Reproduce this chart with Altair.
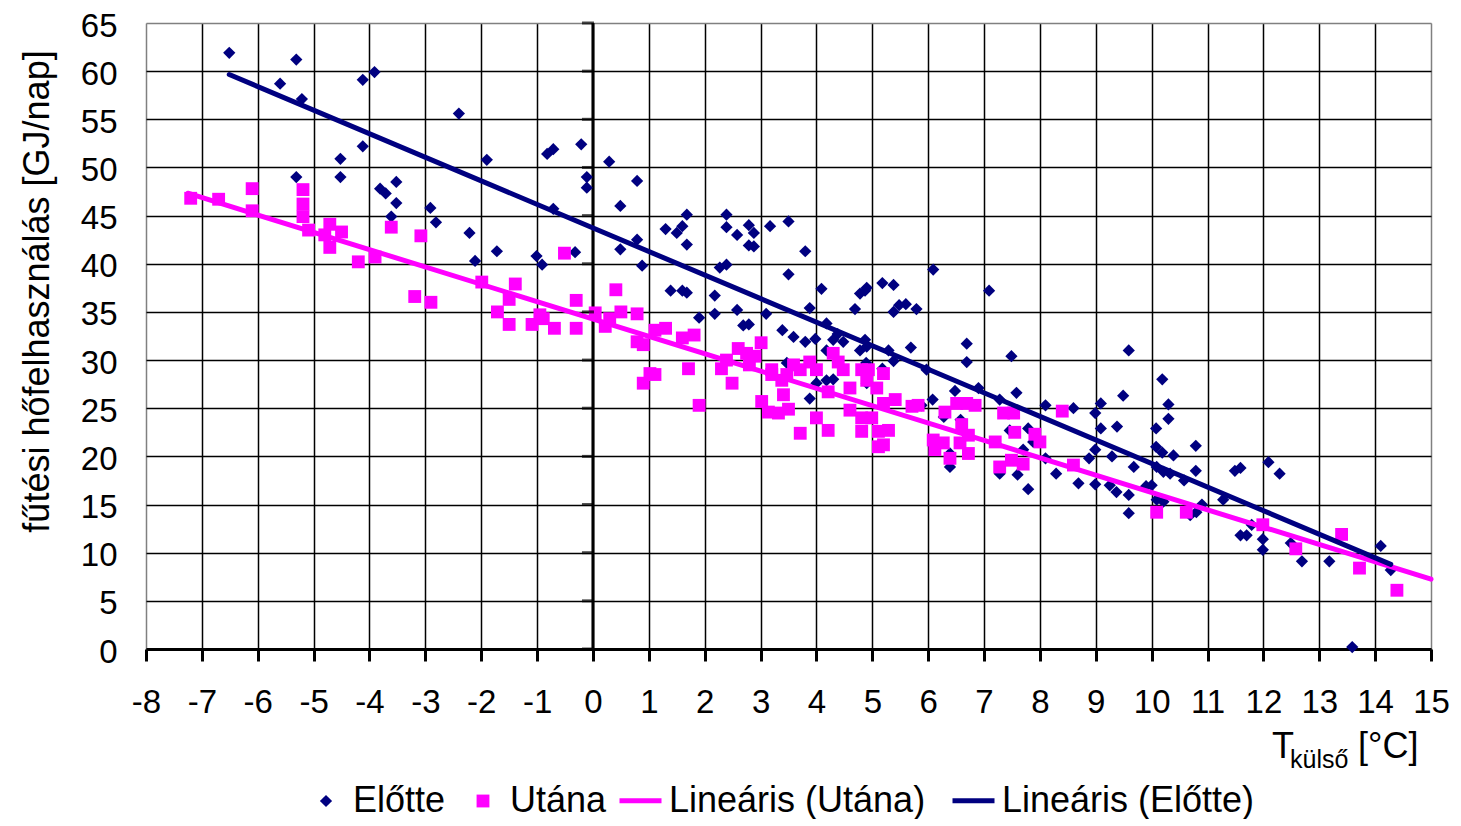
import altair as alt
import pandas as pd

# ---- data ----
elotte_x = [-6.51, -5.31, -5.60, -5.21, -4.12, -3.91, -2.40, -4.12, -4.52, -4.52, -5.31, -1.90,
            -0.82, -0.71, -0.21, -0.11, -0.11, -3.81, -3.71, -3.52, -3.52, -3.61, -2.91, -2.81,
            -2.21, -2.11, -1.72, -1.01, -0.91, -0.71, -0.32,
            0.29, 0.79, 0.49, 1.68, 2.39, 1.30, 1.50, 1.60, 1.68, 2.39, 2.58, 2.79, 2.88, 2.79,
            2.88, 3.17, 3.50, 3.80, 3.50, 0.79, 0.49, 0.88, 2.27, 2.39, 1.39, 1.60, 1.68, 2.18,
            2.18, 1.90, 2.58, 3.10, 2.69, 2.79, 4.09, 3.88, 3.39, 3.59, 3.80, 3.98, 4.18, 4.38,
            4.30, 4.48, 4.18, 4.69, 4.78, 4.87, 4.90, 5.18, 5.38, 5.38, 5.48, 5.60, 5.79, 6.09,
            7.09, 4.87, 4.78, 4.90, 5.29, 5.38, 5.69, 4.89, 5.18, 5.97, 6.69, 6.69, 6.48, 6.90,
            7.28, 7.49, 7.58, 6.08, 5.88, 6.28, 6.58, 6.39, 6.39, 7.46, 3.88, 3.47, 4.00, 4.18,
            4.30, 4.90,
            9.59, 10.19, 8.10, 8.60, 9.09, 8.99, 9.49, 10.30, 10.30, 10.08, 9.09, 9.38, 7.79,
            7.88, 7.70, 7.28, 7.60, 7.79, 8.10, 8.29, 8.69, 8.99, 8.88, 8.99, 9.29, 9.25, 9.37,
            9.59, 9.68, 9.59, 9.90, 10.00, 10.08, 10.19, 10.39, 10.09, 10.21, 10.33, 10.58, 10.79,
            10.79, 10.09, 10.21, 10.69, 10.90, 10.80, 11.28, 11.49, 11.59, 12.09, 12.29, 11.59,
            11.70, 11.79, 11.99, 11.99, 12.49, 12.69, 13.18, 14.10, 14.28, 13.59]
elotte_y = [61.9, 61.2, 58.7, 57.1, 59.1, 59.9, 55.6, 52.2, 50.9, 49.0, 49.0, 50.8,
            51.4, 51.9, 52.4, 49.0, 47.9, 47.8, 47.3, 48.5, 46.3, 44.9, 45.8, 44.3,
            43.2, 40.3, 41.3, 40.8, 39.9, 45.7, 41.2,
            50.6, 48.6, 46.0, 45.1, 45.1, 43.6, 43.2, 43.9, 42.0, 43.8, 43.0, 44.0, 43.2, 41.9,
            41.8, 43.9, 44.4, 41.3, 38.9, 42.5, 41.5, 39.8, 39.6, 39.9, 37.2, 37.2, 37.0, 36.7,
            34.8, 34.4, 35.2, 34.8, 33.6, 33.7, 37.4, 35.4, 33.1, 32.4, 31.9, 32.2, 33.8, 32.7,
            32.1, 31.9, 31.0, 35.3, 36.9, 37.2, 37.5, 38.0, 37.8, 35.0, 35.7, 35.8, 35.3, 39.4,
            37.2, 32.1, 31.0, 31.4, 31.0, 29.9, 31.3, 29.7, 29.1, 29.0, 31.7, 29.8, 26.8, 27.1,
            25.9, 30.4, 26.6, 25.9, 25.3, 24.1, 23.8, 20.3, 18.9, 22.7, 26.0, 29.7, 27.6, 27.9,
            28.0, 27.6,
            31.0, 28.0, 25.3, 25.0, 25.5, 24.5, 26.3, 25.4, 23.9, 22.9, 22.9, 23.1, 22.9,
            21.5, 20.7, 18.2, 18.1, 16.6, 19.8, 18.2, 17.2, 17.1, 19.8, 20.7, 20.0, 17.0, 16.3,
            16.0, 18.9, 14.1, 16.9, 17.0, 21.0, 20.4, 20.1, 18.9, 18.4, 18.2, 17.5, 21.1,
            18.5, 15.5, 15.3, 13.9, 15.0, 14.2, 15.5, 18.5, 18.8, 19.4, 18.2, 11.8,
            11.8, 12.9, 11.4, 10.3, 11.0, 9.1, 9.1, 10.7, 8.2, 0.2]

utana_x = [-7.20, -6.70, -6.10, -6.10, -5.19, -5.19, -5.19, -5.09, -4.71, -4.50, -4.80, -4.71,
           -3.61, -3.08, -4.20, -3.90, -3.19, -2.90, -1.99, -1.39, -1.50, -1.71, -1.50, -1.09,
           -0.95, -0.89, -0.69, -0.30, -0.30, -0.51, 0.04,
           0.41, 0.22, 0.30, 0.50, 0.79, 0.79, 0.90, 1.11, 1.30, 1.02, 1.11, 0.90, 1.60, 1.81,
           1.71, 1.90, 2.30, 2.39, 2.49, 2.60, 2.75, 2.90, 2.80, 3.01, 3.20, 3.20, 3.38, 3.47,
           3.41, 3.02, 3.14, 3.32, 3.50, 3.59, 3.71, 3.88, 4.00, 4.21, 4.00, 3.71, 4.21, 4.30,
           4.39, 4.48, 4.60, 4.60, 4.81, 4.93, 4.90, 5.08, 5.20, 4.81, 4.99, 4.81, 5.11, 5.29,
           5.11, 5.20, 5.41, 5.20, 5.71, 5.82, 6.09, 6.27, 6.12, 6.30, 6.51, 6.69, 6.84, 6.60,
           6.72, 6.57, 6.72, 6.39, 7.20, 7.35, 7.53, 7.55,
           7.91, 8.00, 7.49, 7.70, 7.28, 8.40, 8.60, 10.09, 10.62, 11.99, 12.58, 13.40, 13.72,
           14.39]
utana_y = [46.8, 46.7, 47.8, 45.5, 47.7, 46.2, 44.9, 43.5, 44.1, 43.3, 43.0, 41.7,
           43.8, 42.9, 40.2, 40.7, 36.6, 36.0, 38.1, 37.9, 36.3, 35.0, 33.7, 33.7,
           34.7, 34.3, 33.3, 33.3, 36.2, 41.1, 34.9,
           37.3, 33.5, 34.3, 35.0, 34.8, 31.9, 31.6, 33.1, 33.3, 28.6, 28.5, 27.6, 32.3, 32.6,
           29.1, 25.3, 29.1, 30.0, 27.6, 31.2, 30.7, 30.4, 29.5, 31.8, 29.0, 28.5, 27.9, 28.5,
           26.4, 25.7, 24.6, 24.5, 24.9, 29.5, 29.0, 29.8, 29.0, 26.7, 24.0, 22.4, 22.7, 30.7,
           29.8, 29.0, 27.1, 24.8, 29.0, 29.0, 27.9, 27.1, 28.6, 24.0, 24.0, 22.6, 22.6, 22.7,
           21.0, 21.2, 25.9, 25.5, 25.2, 25.3, 21.7, 21.4, 20.7, 24.6, 25.5, 25.5, 25.3, 23.3,
           22.2, 21.4, 20.3, 19.8, 21.5, 24.5, 24.5, 22.5,
           22.3, 21.5, 19.6, 19.2, 18.9, 24.7, 19.1, 14.2, 14.2, 12.9, 10.4, 11.9, 8.4,
           6.1]

series_names = ["Előtte", "Utána"]
trend_names = ["Lineáris (Utána)", "Lineáris (Előtte)"]
x_ticks = list(range(-8, 16))
y_ticks = list(range(0, 70, 5))
y_title = "fűtési hőfelhasználás [GJ/nap]"

NAVY = "#000080"
MAGENTA = "#FF00FF"
FONT = "Liberation Sans"

pts = pd.DataFrame({
    "x": elotte_x + utana_x,
    "y": elotte_y + utana_y,
    "series": [series_names[0]] * len(elotte_x) + [series_names[1]] * len(utana_x),
})

xscale = alt.Scale(domain=[-8, 15], nice=False, zero=False)
yscale = alt.Scale(domain=[0, 65], nice=False)

xaxis = alt.Axis(
    values=x_ticks, title=None, labelExpr="'' + datum.value",
    labelFont=FONT, labelFontSize=33, labelColor="black", labelPadding=25,
    labelFlush=False, labelOverlap=False,
    tickSize=12, tickWidth=3, tickColor="black",
    domainColor="black", domainWidth=3,
    grid=True, gridWidth=1.5,
    gridColor={"condition": {"test": "datum.value == -8 || datum.value == 15", "value": "#808080"},
               "value": "black"},
)
yaxis = alt.Axis(
    values=y_ticks, title=y_title, labelExpr="'' + datum.value",
    labelFont=FONT, labelFontSize=33, labelColor="black", labelPadding=29, labelOffset=3,
    labelFlush=False, labelOverlap=False,
    ticks=False, tickSize=0, domain=False,
    grid=True, gridWidth=1.5,
    gridColor={"condition": {"test": "datum.value == 65", "value": "#808080"}, "value": "black"},
    titleFont=FONT, titleFontSize=36, titleFontWeight="normal", titleColor="black",
    titleAngle=270, titleAlign="center", titleBaseline="middle", titleX=-109, titleY=268,
)

pt_legend = alt.Legend(
    title=None, orient="none", legendX=162, legendY=760, direction="horizontal",
    labelFont=FONT, labelFontSize=36, labelColor="black", labelLimit=0, symbolSize=140,
    labelOffset=9, columnPadding=19, symbolStrokeWidth=0, padding=0,
)
line_legend = alt.Legend(
    title=None, orient="none", legendX=471, legendY=754, direction="horizontal",
    labelFont=FONT, labelFontSize=36, labelColor="black", labelLimit=0, symbolSize=1764,
    symbolStrokeWidth=5, labelOffset=5, columnPadding=16, padding=0,
)

points = alt.Chart(pts).mark_point(filled=True, opacity=1, strokeWidth=0).encode(
    x=alt.X("x:Q", scale=xscale, axis=xaxis),
    y=alt.Y("y:Q", scale=yscale, axis=yaxis),
    color=alt.Color("series:N", scale=alt.Scale(domain=series_names, range=[NAVY, MAGENTA]),
                    legend=pt_legend),
    shape=alt.Shape("series:N", scale=alt.Scale(domain=series_names, range=["diamond", "square"]),
                    legend=pt_legend),
    size=alt.Size("series:N", scale=alt.Scale(domain=series_names, range=[150, 165]), legend=None),
)

trend_stroke = alt.Stroke("trend:N", scale=alt.Scale(domain=trend_names, range=[MAGENTA, NAVY]),
                          legend=line_legend)

line_utana = (
    alt.Chart(pts)
    .transform_filter(f"datum.series == '{series_names[1]}'")
    .transform_regression("x", "y", extent=[-7.25, 15])
    .transform_calculate(trend=f"'{trend_names[0]}'")
    .mark_line(strokeWidth=5, strokeCap="round")
    .encode(x=alt.X("x:Q", scale=xscale), y=alt.Y("y:Q", scale=yscale), stroke=trend_stroke)
)
line_elotte = (
    alt.Chart(pts)
    .transform_filter(f"datum.series == '{series_names[0]}'")
    .transform_regression("x", "y")
    .transform_calculate(trend=f"'{trend_names[1]}'")
    .mark_line(strokeWidth=5, strokeCap="round")
    .encode(x=alt.X("x:Q", scale=xscale), y=alt.Y("y:Q", scale=yscale), stroke=trend_stroke)
)

# vertical axis line at x = 0 with its tick marks
zero_df = pd.DataFrame({"x": [0]})
zero_axis = alt.Chart(zero_df).mark_rule(color="black", strokeWidth=3).encode(
    x=alt.X("x:Q", scale=xscale))
tick_df = pd.DataFrame({"x": [0] * len(y_ticks), "y": y_ticks})
zero_ticks = alt.Chart(tick_df).mark_tick(orient="horizontal", size=12, thickness=3,
                                          color="black", xOffset=-5).encode(
    x=alt.X("x:Q", scale=xscale), y=alt.Y("y:Q", scale=yscale))

# x-axis title with subscript
def txt(s, x, y, size):
    return alt.Chart(pd.DataFrame({"t": [s]})).mark_text(
        align="left", baseline="alphabetic", font=FONT, fontSize=size, color="black"
    ).encode(text="t:N", x=alt.value(x), y=alt.value(y))

xt = alt.layer(txt("T", 1126, 735, 36), txt("külső", 1144, 745, 25), txt("[°C]", 1212, 735, 36))

chart = alt.layer(zero_axis, points, line_utana, line_elotte, zero_ticks, xt).properties(
    width=1285, height=626,
    padding={"left": 138, "top": 15, "right": 22, "bottom": 170},
    autosize=alt.AutoSizeParams(type="none"),
).configure_view(
    fill="#C0C0C0", stroke="#808080", strokeWidth=2
).configure(background="white")

chart.save("out.html", embed_options={"renderer": "svg", "actions": False})
